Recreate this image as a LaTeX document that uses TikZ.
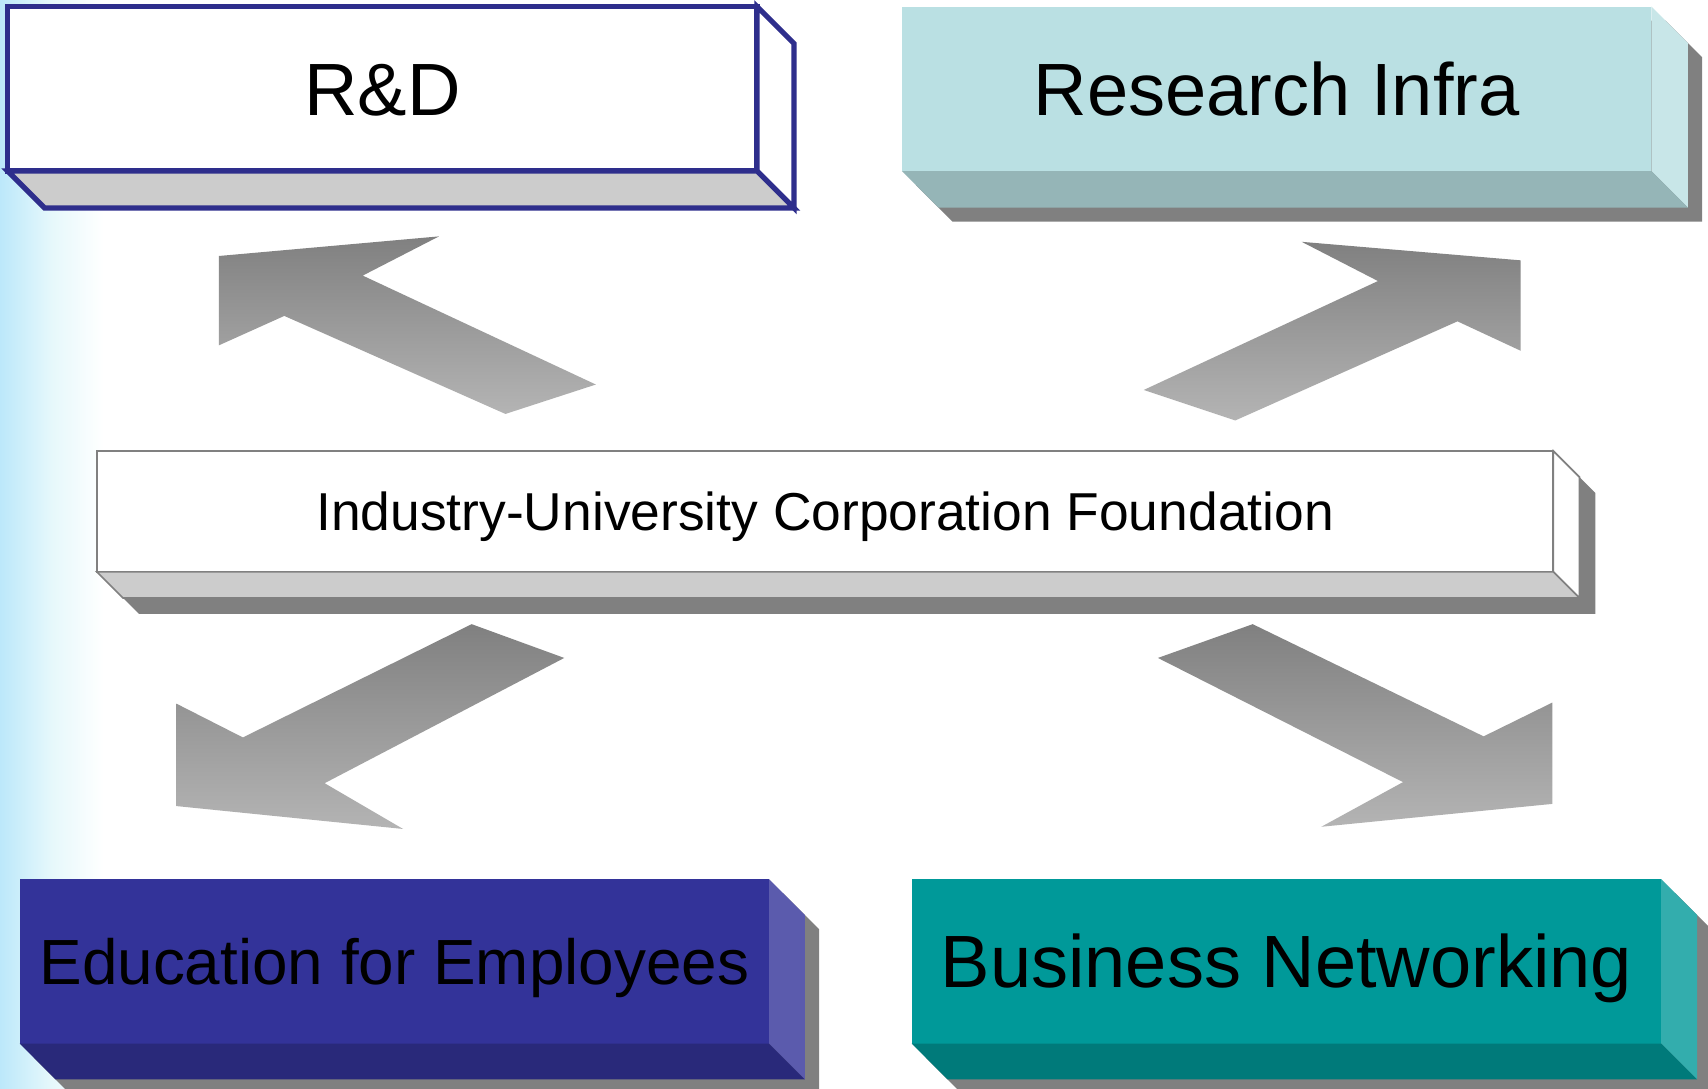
\documentclass[tikz,border=0pt]{standalone}
\usepackage{fontspec}
\setmainfont{Liberation Sans}
\usetikzlibrary{calc}
\pgfdeclarelayer{bg}
\pgfsetlayers{bg,main}
\definecolor{rdnavy}{HTML}{2E2E8C}
\definecolor{bgblue}{HTML}{BCE8FA}
\definecolor{bgmid}{HTML}{E6F8FB}
\definecolor{shadowgray}{HTML}{808080}
\definecolor{lightface}{HTML}{CCCCCC}
\definecolor{riFront}{HTML}{BAE0E3}
\definecolor{riSide}{HTML}{C8E6E8}
\definecolor{riBottom}{HTML}{95B5B7}
\definecolor{edFront}{HTML}{333399}
\definecolor{edSide}{HTML}{5B5BAD}
\definecolor{edBottom}{HTML}{29297A}
\definecolor{bnFront}{HTML}{009999}
\definecolor{bnSide}{HTML}{33ADAD}
\definecolor{bnBottom}{HTML}{007A7A}
\definecolor{arrowdark}{HTML}{808080}
\definecolor{arrowlight}{HTML}{B4B4B4}
% side and bottom faces of a box: #1 node, #2 depth, #3 side fill, #4 bottom fill, #5 stroke options
\newcommand{\cubefaces}[5]{%
  \path[#5, fill=#3] (#1.north east) -- ($(#1.north east)+(#2,#2)$) -- ($(#1.south east)+(#2,#2)$) -- (#1.south east) -- cycle;
  \path[#5, fill=#4] (#1.south west) -- (#1.south east) -- ($(#1.south east)+(#2,#2)$) -- ($(#1.south west)+(#2,#2)$) -- cycle;
}
% drop shadow of a box: #1 node, #2 depth, #3 offset
\newcommand{\cubeshadow}[3]{%
  \begin{pgfonlayer}{bg}
  \fill[shadowgray] ($(#1.north west)+(#3,#3)$) -- ($(#1.north east)+(#3,#3)$) -- ($(#1.north east)+(#2+#3,#2+#3)$) -- ($(#1.south east)+(#2+#3,#2+#3)$) -- ($(#1.south west)+(#2+#3,#2+#3)$) -- ($(#1.south west)+(#3,#3)$) -- cycle;
  \end{pgfonlayer}
}
\begin{document}
\begin{tikzpicture}[x=1pt,y=-1pt,
  front/.style={inner sep=0pt, outer sep=0pt, minimum width=688pt, minimum height=151pt, text=black, align=center},
  bigtext/.style={font=\fontsize{68}{68}\selectfont, text height=48.7pt, text depth=0pt},
  arrowshape/.style={top color=arrowdark, bottom color=arrowlight, draw=none}]
\useasboundingbox (0,0) rectangle (1568,999);
\clip (0,0) rectangle (1568,999);
\begin{pgfonlayer}{bg}
\fill[white] (0,0) rectangle (1568,999);
\shade[left color=bgblue, right color=white, middle color=bgmid, draw=none] (0,0) rectangle (95,999);
\end{pgfonlayer}

% R&D
\node[front, bigtext, fill=white, draw=rdnavy, line width=4.8pt] (rd) at (351,81.5) {R\&D};
\cubefaces{rd}{34}{white}{lightface}{draw=rdnavy, line width=4.8pt, line join=miter}

% Research Infra
\node[front, bigtext, fill=riFront] (ri) at (1172,81.5) {Research Infra};
\cubeshadow{ri}{33.5}{13}
\cubefaces{ri}{33.5}{riSide}{riBottom}{draw=none}

% Foundation
\node[front, minimum width=1337pt, minimum height=111pt, fill=white, draw=shadowgray, line width=2pt,
  font=\fontsize{49}{49}\selectfont, text height=35pt, text depth=0pt] (iu) at (757.5,469.5) {Industry-University Corporation Foundation};
\cubeshadow{iu}{24}{14.5}
\cubefaces{iu}{24}{white}{lightface}{draw=shadowgray, line width=1.5pt}

% Education for Employees
\node[front, fill=edFront, font=\fontsize{58.6}{58.6}\selectfont, text height=42pt, text depth=0pt] (ed) at (362,882.5) {Education for Employees};
\cubeshadow{ed}{33}{13}
\cubefaces{ed}{33}{edSide}{edBottom}{draw=none}

% Business Networking
\node[front, bigtext, fill=bnFront] (bn) at (1181,882.5) {Business Networking};
\cubeshadow{bn}{33}{13}
\cubefaces{bn}{33}{bnSide}{bnBottom}{draw=none}

% block arrows
\shade[arrowshape] (201,235) -- (403,217) -- (333,253) -- (547,353) -- (464,380) -- (261,290) -- (201,317) -- cycle;
\shade[arrowshape] (1195,222) -- (1396,239) -- (1396,322) -- (1338,295) -- (1134,386) -- (1050,358) -- (1265,258) -- cycle;
\shade[arrowshape] (433,573) -- (518,604) -- (298,719) -- (370,761) -- (162,740) -- (162,646) -- (223,677) -- cycle;
\shade[arrowshape] (1150,573) -- (1063,604) -- (1288,718) -- (1213,759) -- (1425,738) -- (1425,645) -- (1362,676) -- cycle;
\end{tikzpicture}
\end{document}
